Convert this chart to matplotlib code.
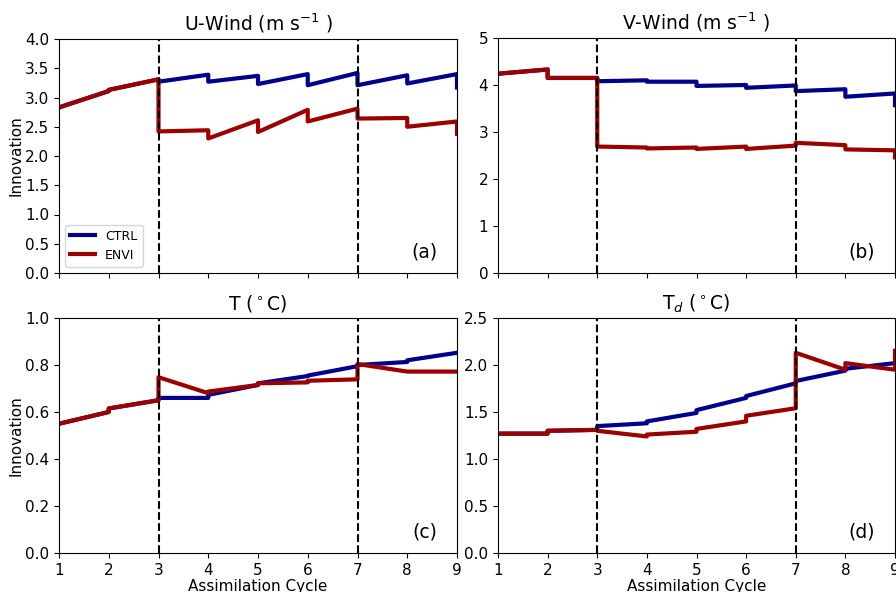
import numpy as np
import matplotlib
matplotlib.use('Agg')
from matplotlib import pyplot as plt

cycles = [1, 2, 3, 4, 5, 6, 7, 8, 9]

# forecast (before update) and analysis (after update) innovations at each cycle
u_ctrl_f = [2.83, 3.11, 3.31, 3.39, 3.37, 3.40, 3.42, 3.38, 3.40]
u_ctrl_a = [2.83, 3.13, 3.27, 3.27, 3.23, 3.21, 3.21, 3.24, 3.17]
u_envi_f = [2.83, 3.11, 3.31, 2.44, 2.61, 2.79, 2.81, 2.65, 2.59]
u_envi_a = [2.83, 3.13, 2.42, 2.30, 2.41, 2.59, 2.64, 2.50, 2.38]

v_ctrl_f = [4.24, 4.33, 4.15, 4.10, 4.07, 4.00, 3.99, 3.91, 3.82]
v_ctrl_a = [4.24, 4.15, 4.08, 4.07, 3.98, 3.94, 3.87, 3.75, 3.57]
v_envi_f = [4.24, 4.33, 4.15, 2.67, 2.67, 2.69, 2.71, 2.72, 2.61]
v_envi_a = [4.24, 4.15, 2.69, 2.65, 2.64, 2.64, 2.77, 2.63, 2.46]

t_ctrl_f = [0.55, 0.60, 0.65, 0.66, 0.715, 0.753, 0.795, 0.813, 0.852]
t_ctrl_a = [0.55, 0.615, 0.66, 0.673, 0.722, 0.755, 0.80, 0.82, 0.852]
t_envi_f = [0.55, 0.60, 0.65, 0.68, 0.715, 0.726, 0.739, 0.772, 0.772]
t_envi_a = [0.55, 0.615, 0.748, 0.687, 0.722, 0.733, 0.804, 0.772, 0.772]

td_ctrl_f = [1.27, 1.27, 1.31, 1.38, 1.49, 1.65, 1.805, 1.94, 2.02]
td_ctrl_a = [1.27, 1.30, 1.35, 1.40, 1.52, 1.67, 1.83, 1.96, 2.02]
td_envi_f = [1.27, 1.27, 1.31, 1.24, 1.29, 1.40, 1.54, 1.95, 1.95]
td_envi_a = [1.27, 1.30, 1.30, 1.26, 1.32, 1.46, 2.13, 2.02, 2.15]

titles = ['U-Wind (m s$^{-1}$ )', 'V-Wind (m s$^{-1}$ )', 'T ($^\\circ$C)', 'T$_d$ ($^\\circ$C)']
labels = ['(a)', '(b)', '(c)', '(d)']
ylims = [(0, 4), (0, 5), (0, 1), (0, 2.5)]
yticks = [np.arange(0, 4.01, 0.5), np.arange(0, 5.1, 1), np.arange(0, 1.01, 0.2), np.arange(0, 2.51, 0.5)]
yfmt = ['%.1f', '%d', '%.1f', '%.1f']
data = [(u_ctrl_f, u_ctrl_a, u_envi_f, u_envi_a),
        (v_ctrl_f, v_ctrl_a, v_envi_f, v_envi_a),
        (t_ctrl_f, t_ctrl_a, t_envi_f, t_envi_a),
        (td_ctrl_f, td_ctrl_a, td_envi_f, td_envi_a)]


def sawtooth(f, a):
    xs, ys = [], []
    for i, c in enumerate(cycles):
        xs += [c, c]
        ys += [f[i], a[i]]
    return xs, ys


fig = plt.figure(figsize=(8.96, 5.92), dpi=100)
W, H = 896., 592.
boxes = [(59, 39, 457, 273), (498, 38, 895, 273), (59, 318, 457, 553), (498, 318, 895, 553)]

for k in range(4):
    l, t, r, b = boxes[k]
    ax = fig.add_axes([l / W, 1 - b / H, (r - l) / W, (b - t) / H])
    cf, ca, ef, ea = data[k]
    x, y = sawtooth(cf, ca)
    ax.plot(x, y, color='#00008B', lw=3, label='CTRL')
    x, y = sawtooth(ef, ea)
    ax.plot(x, y, color='#9B0000', lw=3, label='ENVI')
    for xv in [3, 7]:
        ax.axvline(xv, color='k', ls='--', lw=1.5)
    ax.set_xlim(1, 9)
    ax.set_ylim(*ylims[k])
    ax.set_yticks(yticks[k])
    ax.set_yticklabels([yfmt[k] % v for v in yticks[k]])
    ax.set_xticks(cycles)
    ax.tick_params(labelsize=11)
    ax.set_title(titles[k], fontsize=13.5)
    ax.text(0.95, 0.05, labels[k], transform=ax.transAxes, ha='right', va='bottom', fontsize=13.5)
    if k < 2:
        ax.set_xticklabels([])
    else:
        ax.set_xlabel('Assimilation Cycle', fontsize=11, labelpad=1)
    if k % 2 == 0:
        ax.set_ylabel('Innovation', fontsize=11, labelpad=1)
    if k == 0:
        ax.legend(loc='lower left', fontsize=9)

plt.savefig('out.png', dpi=100)
